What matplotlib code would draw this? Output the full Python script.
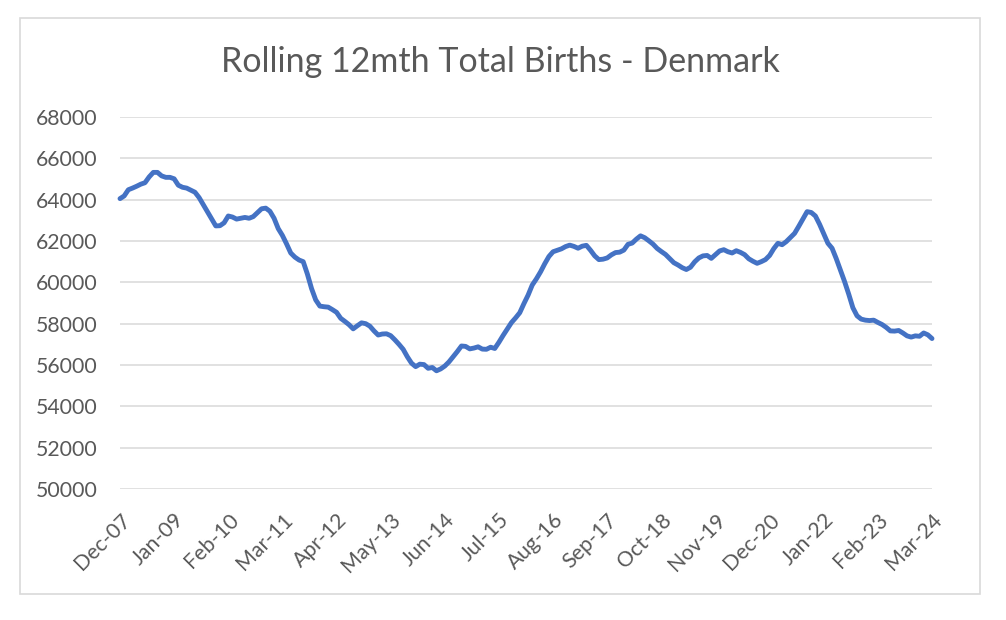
## Rolling 12 month total births - Denmark, line chart in excel style

import matplotlib
matplotlib.use('Agg')
import matplotlib.pyplot as plt
import matplotlib.patches as mpatches
import numpy as np

## monthly values Dec-07 .. Mar-24
births = [64050, 64180, 64480, 64560, 64650, 64750, 64820, 65100, 65320, 65320,
	65150, 65080, 65080, 65010, 64700, 64600, 64560, 64460, 64360, 64100,
	63760, 63420, 63070, 62730, 62740, 62880, 63210, 63160, 63060, 63100,
	63140, 63100, 63180, 63370, 63560, 63590, 63440, 63100, 62600, 62270,
	61860, 61420, 61220, 61080, 61000, 60400, 59700, 59150, 58850, 58820,
	58800, 58680, 58550, 58260, 58110, 57950, 57750, 57900, 58040, 58000,
	57880, 57650, 57450, 57500, 57510, 57420, 57220, 57000, 56760, 56400,
	56090, 55920, 56040, 56020, 55840, 55880, 55720, 55810, 55950, 56150,
	56400, 56650, 56920, 56900, 56780, 56820, 56880, 56770, 56760, 56860,
	56800, 57100, 57430, 57740, 58050, 58280, 58530, 58970, 59380, 59870,
	60170, 60510, 60900, 61250, 61480, 61550, 61620, 61730, 61800, 61740,
	61650, 61750, 61790, 61550, 61280, 61100, 61120, 61180, 61330, 61440,
	61460, 61560, 61840, 61900, 62090, 62250, 62160, 62010, 61850, 61640,
	61490, 61350, 61150, 60950, 60840, 60710, 60620, 60730, 60990, 61180,
	61280, 61300, 61160, 61340, 61520, 61580, 61480, 61420, 61530, 61450,
	61340, 61140, 61020, 60920, 61000, 61100, 61300, 61630, 61890, 61820,
	61970, 62170, 62370, 62710, 63070, 63420, 63380, 63210, 62810, 62350,
	61890, 61650, 61150, 60590, 60040, 59430, 58770, 58380, 58220, 58170,
	58150, 58170, 58060, 57960, 57820, 57650, 57640, 57670, 57550, 57410,
	57350, 57410, 57390, 57550, 57460, 57280]

tickLabels = ['Dec-07', 'Jan-09', 'Feb-10', 'Mar-11', 'Apr-12', 'May-13', 'Jun-14', 'Jul-15',
	'Aug-16', 'Sep-17', 'Oct-18', 'Nov-19', 'Dec-20', 'Jan-22', 'Feb-23', 'Mar-24']
yTicks = [50000, 52000, 54000, 56000, 58000, 60000, 62000, 64000, 66000, 68000]

textColor = '#595959'
plt.rcParams['font.family'] = ['Lato', 'DejaVu Sans']

W, H = 1006, 620
fig = plt.figure(figsize=(W/100, H/100), dpi=100)

## outer chart border
fig.patches.append(mpatches.Rectangle((20/W, 1-594/H), 960/W, 576/H, transform=fig.transFigure,
	fill=False, edgecolor='#d9d9d9', linewidth=1.2))

ax = fig.add_axes([120/W, 1-489/H, 812/W, 372/H])
x = np.arange(len(births))
ax.plot(x, births, color='#4472c4', linewidth=3.5, solid_capstyle='round', solid_joinstyle='round', clip_on=False, zorder=3)

ax.set_ylim(50000, 68000)
ax.set_xlim(0, len(births)-1)
ax.set_yticks(yTicks)
ax.set_xticks(np.arange(0, len(births), 13))
ax.set_xticklabels(tickLabels, rotation=45, ha='right', va='top', rotation_mode='anchor')
ax.grid(axis='y', color='#d9d9d9', linewidth=1.1)
ax.set_axisbelow(True)
for s in ax.spines.values():
	s.set_visible(False)
ax.tick_params(length=0, labelcolor=textColor, labelsize=15.3)
ax.tick_params(axis='y', pad=16)
ax.tick_params(axis='x', pad=15)

fig.text(500/W, 1-62/H, 'Rolling 12mth Total Births - Denmark', ha='center', va='center',
	color=textColor, fontsize=24.5)

fig.savefig('out.png', dpi=100)
